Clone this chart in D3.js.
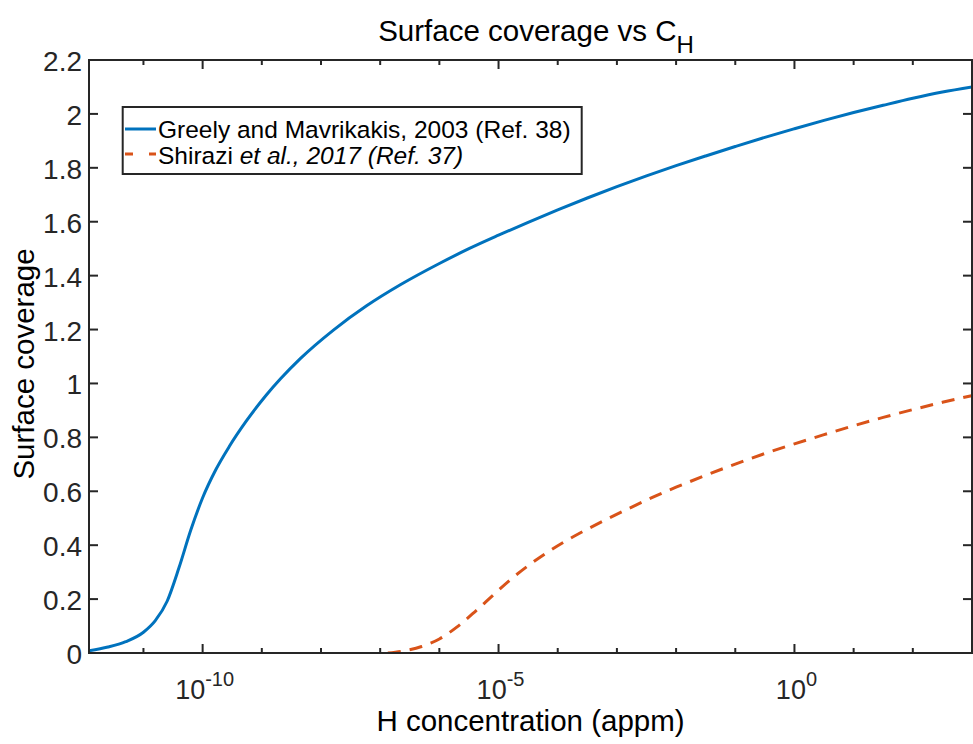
<!DOCTYPE html>
<html>
<head>
<meta charset="utf-8">
<script src="https://cdn.jsdelivr.net/npm/d3@7"></script>
<style>
  html, body { margin: 0; padding: 0; background: #fff; }
  svg { display: block; }
  text { font-family: "Liberation Sans", Arial, Helvetica, sans-serif; }
</style>
</head>
<body>
<svg id="chart" width="973" height="744"></svg>
<script>
// ---------------- data ----------------
const chartTitle = "Surface coverage vs C";
const chartTitleSub = "H";
const xAxisLabel = "H concentration (appm)";
const yAxisLabel = "Surface coverage";

const seriesNames = ["Greely and Mavrikakis, 2003 (Ref. 38)", "Shirazi", "et al., 2017 (Ref. 37)"];

// Greely and Mavrikakis, 2003 — log10 of H concentration (appm) and surface coverage
const greelyLogC = [-11.92, -11.6, -11.3, -11.0, -10.8, -10.6, -10.4, -10.2, -10.0, -9.78,
  -9.55, -9.27, -8.92, -8.68, -8.35, -7.79, -7.23, -6.66, -6.0, -5.5, -5.0, -4.5, -4.0,
  -3.5, -3.0, -2.5, -2.0, -1.5, -1.0, -0.5, 0.0, 0.5, 1.0, 1.5, 2.0, 2.5, 3.0];
const greelyCoverage = [0.008, 0.022, 0.042, 0.077, 0.120, 0.192, 0.316, 0.456, 0.576, 0.679,
  0.766, 0.858, 0.958, 1.018, 1.092, 1.198, 1.288, 1.366, 1.445, 1.500, 1.550, 1.598, 1.644,
  1.688, 1.730, 1.770, 1.808, 1.844, 1.879, 1.913, 1.945, 1.976, 2.005, 2.032, 2.058, 2.081, 2.100];

// Shirazi et al., 2017
const shiraziLogC = [-6.87, -6.6, -6.3, -6.0, -5.7, -5.4, -5.1, -4.8, -4.5, -4.2, -3.9, -3.6,
  -3.2, -2.8, -2.4, -2.0, -1.5, -1.0, -0.5, 0.0, 0.5, 1.0, 1.5, 2.0, 2.5, 3.0];
const shiraziCoverage = [0.0, 0.008, 0.024, 0.052, 0.097, 0.153, 0.213, 0.272, 0.324, 0.370, 0.411, 0.448,
  0.493, 0.536, 0.577, 0.615, 0.659, 0.701, 0.740, 0.776, 0.810, 0.843, 0.874, 0.903, 0.930, 0.955];

const xDomainLog = [-11.92, 3.0];
const xMajorExp = [-10, -5, 0];
const xMinorExp = [-11, -9, -8, -7, -6, -4, -3, -2, -1, 1, 2, 3];
const yTicks = [0, 0.2, 0.4, 0.6, 0.8, 1.0, 1.2, 1.4, 1.6, 1.8, 2.0, 2.2];
const yTickLabels = ["0", "0.2", "0.4", "0.6", "0.8", "1", "1.2", "1.4", "1.6", "1.8", "2", "2.2"];

// ---------------- layout ----------------
const plot = { left: 89, right: 972, top: 60, bottom: 653 };
const axisColor = "#262626";
const blue = "#0072BD", orange = "#D95319";

const svg = d3.select("#chart");

const x = d3.scaleLog()
  .domain(xDomainLog.map(e => Math.pow(10, e)))
  .range([plot.left, plot.right]);
const y = d3.scaleLinear().domain([0, 2.2]).range([plot.bottom, plot.top]);

function label(parent, px, py, opt) {
  const tr = `translate(${px},${py})` + (opt.rotate ? ` rotate(${opt.rotate})` : "");
  const g = parent.append("g").attr("transform", tr);
  return g.append("text")
    .attr("text-anchor", opt.anchor || "start")
    .style("font-size", opt.size + "px")
    .attr("fill", opt.fill || "#000");
}

// clip
svg.append("defs").append("clipPath").attr("id", "clip")
  .append("rect").attr("x", plot.left).attr("y", plot.top)
  .attr("width", plot.right - plot.left).attr("height", plot.bottom - plot.top);

// ---------------- lines ----------------
const line = d3.line()
  .x(d => x(Math.pow(10, d[0])))
  .y(d => y(d[1]))
  .curve(d3.curveMonotoneX);

const greely = greelyLogC.map((c, i) => [c, greelyCoverage[i]]);
const shirazi = shiraziLogC.map((c, i) => [c, shiraziCoverage[i]]);

const lines = svg.append("g").attr("clip-path", "url(#clip)");
lines.append("path").datum(greely).attr("d", line)
  .attr("fill", "none").attr("stroke", blue).attr("stroke-width", 3);
lines.append("path").datum(shirazi).attr("d", line)
  .attr("fill", "none").attr("stroke", orange).attr("stroke-width", 3)
  .attr("stroke-dasharray", "13,9");

// ---------------- axes ----------------
const ax = svg.append("g").attr("stroke", axisColor).attr("stroke-width", 2).attr("fill", "none");
ax.append("rect").attr("x", plot.left).attr("y", plot.top)
  .attr("width", plot.right - plot.left).attr("height", plot.bottom - plot.top);

const majorLen = 9, minorLen = 5;
xMajorExp.forEach(e => {
  const px = x(Math.pow(10, e));
  ax.append("line").attr("x1", px).attr("x2", px).attr("y1", plot.bottom).attr("y2", plot.bottom - majorLen);
  ax.append("line").attr("x1", px).attr("x2", px).attr("y1", plot.top).attr("y2", plot.top + majorLen);
});
xMinorExp.forEach(e => {
  const px = x(Math.pow(10, e));
  ax.append("line").attr("x1", px).attr("x2", px).attr("y1", plot.bottom).attr("y2", plot.bottom - minorLen);
  ax.append("line").attr("x1", px).attr("x2", px).attr("y1", plot.top).attr("y2", plot.top + minorLen);
});
yTicks.forEach(v => {
  const py = y(v);
  ax.append("line").attr("x1", plot.left).attr("x2", plot.left + majorLen).attr("y1", py).attr("y2", py);
  ax.append("line").attr("x1", plot.right).attr("x2", plot.right - majorLen).attr("y1", py).attr("y2", py);
});

// y tick labels
yTicks.forEach((v, i) => {
  label(svg, plot.left - 7, y(v) + 11, { anchor: "end", size: 28, fill: axisColor })
    .text(yTickLabels[i]);
});

// x tick labels 10^n
xMajorExp.forEach(e => {
  const t = label(svg, x(Math.pow(10, e)) + 2, plot.bottom + 46, { anchor: "middle", size: 27, fill: axisColor });
  t.append("tspan").text("10");
  t.append("tspan").attr("dy", -13).style("font-size", "20px").text(String(e));
});

// title
const tt = label(svg, 536, 41, { anchor: "middle", size: 29.5 });
tt.append("tspan").text(chartTitle);
tt.append("tspan").attr("dy", 12).style("font-size", "24px").text(chartTitleSub);

// axis labels
label(svg, 530.5, 731, { anchor: "middle", size: 29.5 }).text(xAxisLabel);
label(svg, 34, 364, { anchor: "middle", size: 29.5, rotate: -90 }).text(yAxisLabel);

// ---------------- legend ----------------
const lg = svg.append("g");
lg.append("rect").attr("x", 122.7).attr("y", 107).attr("width", 459).attr("height", 67)
  .attr("fill", "#fff").attr("stroke", axisColor).attr("stroke-width", 2);
lg.append("line").attr("x1", 125).attr("x2", 156).attr("y1", 129).attr("y2", 129)
  .attr("stroke", blue).attr("stroke-width", 3);
lg.append("line").attr("x1", 125).attr("x2", 156).attr("y1", 154).attr("y2", 154)
  .attr("stroke", orange).attr("stroke-width", 3).attr("stroke-dasharray", "8,16");
label(lg, 158, 137.5, { size: 24.5 }).text(seriesNames[0]);
const l2 = label(lg, 158, 163.5, { size: 24.5 });
l2.append("tspan").text(seriesNames[1] + " ");
l2.append("tspan").style("font-style", "italic").text(seriesNames[2]);
</script>
</body>
</html>
